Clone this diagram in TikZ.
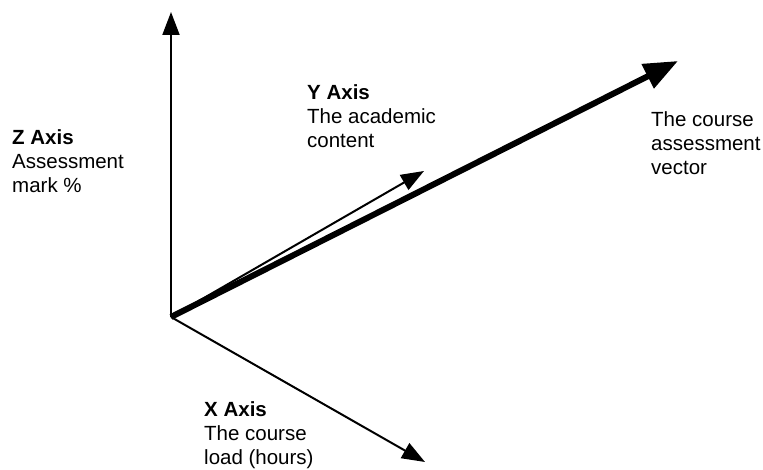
\documentclass[tikz,border=0pt]{standalone}
\usepackage{fontspec}
\setmainfont{Liberation Sans}
\usetikzlibrary{arrows.meta}

\begin{document}
\begin{tikzpicture}[
    axis/.style={line width=2pt, -{Triangle[length=23pt,width=17pt]}},
    vector/.style={line width=6pt, -{Triangle[length=34pt,width=26pt]}},
    axistext/.style={anchor=base west, align=left, inner sep=0pt,
        font=\fontsize{20.5}{24}\selectfont},
x=1pt, y=1pt]

    \useasboundingbox (0,0) rectangle (763,470);

    \coordinate (O) at (171,153);
    \coordinate (Z) at (171,458);
    \coordinate (Y) at (424,299);
    \coordinate (X) at (425,8);
    \coordinate (V) at (678,409);

    \draw[axis] (O) -- (Z);
    \draw[axis] (O) -- (Y);
    \draw[axis] (O) -- (X);
    \draw[vector] (O) -- (V);

    % base anchor sits on the last line
    \node[axistext] (zlab) at (12,277) {\textbf{Z Axis}\\Assessment\\mark \%};
    \node[axistext] (ylab) at (307,322) {\textbf{Y Axis}\\The academic\\content};
    \node[axistext] (xlab) at (204,5) {\textbf{X Axis}\\The course\\load (hours)};
    \node[axistext] (vlab) at (651,295) {The course\\assessment\\vector};

\end{tikzpicture}
\end{document}
